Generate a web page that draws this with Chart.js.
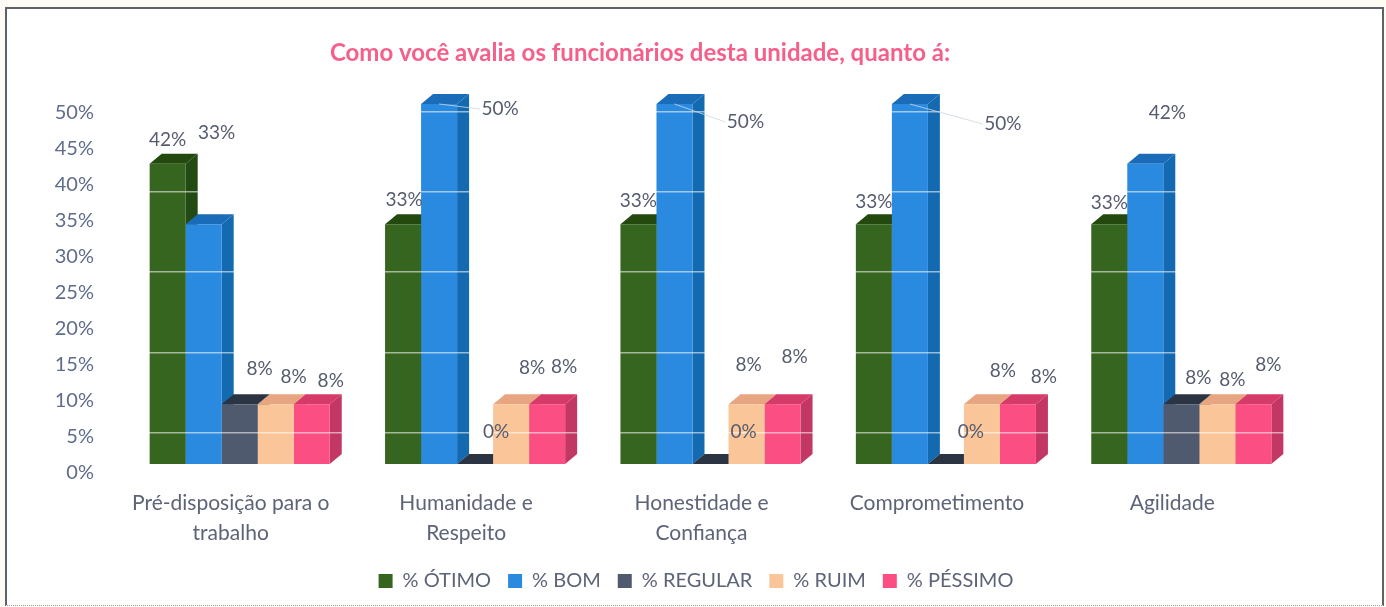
<!DOCTYPE html>
<html lang="pt">
<head>
<meta charset="utf-8">
<title>Avaliação dos funcionários</title>
<script src="https://cdn.jsdelivr.net/npm/chart.js@4/dist/chart.umd.min.js"></script>
<style>
  html, body { margin: 0; padding: 0; background: #fdfbf3; overflow: hidden; }
  #wrap { position: absolute; left: 0; top: 0; width: 1386px; height: 607px; }
  #box { position: absolute; left: 5px; top: 7px; width: 1375px; height: 596px; background: #fff;
         border: solid #5c6268; border-width: 2px 2px 0 2px; border-bottom: 1px dotted #9aa0a6; }
  canvas { position: absolute; left: 0; top: 0; }
</style>
</head>
<body>
<div id="wrap">
  <div id="box"></div>
  <canvas id="chart" width="1386" height="607"></canvas>
</div>
<script>
// ==================== DATA ====================
const categories = [['Pré-disposição para o', 'trabalho'], ['Humanidade e', 'Respeito'], ['Honestidade e', 'Confiança'], 'Comprometimento', 'Agilidade'];
const otimo   = [41.7, 33.3, 33.3, 33.3, 33.3];
const bom     = [33.3, 50, 50, 50, 41.7];
const regular = [8.3, 0, 0, 0, 8.3];
const ruim    = [8.3, 8.3, 8.3, 8.3, 8.3];
const pessimo = [8.3, 8.3, 8.3, 8.3, 8.3];
const seriesNames = ['% ÓTIMO', '% BOM', '% REGULAR', '% RUIM', '% PÉSSIMO'];
const yTicks = [0, 5, 10, 15, 20, 25, 30, 35, 40, 45, 50];
// the white lines crossing the bars do not sit on the axis ticks in the original
const shineLines = [4.4, 15.5, 26.7, 37.8, 48.9];

// ==================== STYLE ====================
const FONT = 'Lato, Carlito, sans-serif';
const TXT = '#5d6478';
const DEPTH = { x: 12, y: 10 };
const front = ['#35651f', '#2a8ae0', '#4f5a6e', '#fac598', '#fb4f84'];
const top_  = ['#23490f', '#1a6cb8', '#2b3442', '#e8a581', '#d63a68'];
const side  = ['#234a12', '#146ab0', '#2f3847', '#dfa880', '#c23763'];

// label offsets from the top of each bar: [series][category] -> [dx, dy]
const labelPos = [
  [[0, -24], [1, -24], [0, -23], [0, -22], [0, -21]],
  [[13, -91], [61, 5], [71, 18], [93, 20], [22, -51]],
  [[20, -35], [21, -32], [33, -32], [25, -32], [17, -26]],
  [[18, -27], [21, -36], [2, -39], [21, -33], [15, -24]],
  [[19, -23], [17, -37], [12, -47], [26, -27], [15, -39]]
];
// leader lines on the 50% bars, from bar top to label
const leaderFor = { series: 1, min: 50 };

// ==================== PLUGINS ====================
// side and top faces go under all the fronts, so a bar front covers its left neighbour's side
const depthBars = {
  id: 'depthBars',
  beforeDatasetsDraw(chart) {
    const c = chart.ctx;
    chart.data.datasets.forEach((ds, i) => {
      chart.getDatasetMeta(i).data.forEach(b => {
        const l = b.x - b.width / 2, r = b.x + b.width / 2, t = b.y, bt = b.base;
        c.save();
        c.fillStyle = side[i];
        c.beginPath();
        c.moveTo(r, bt); c.lineTo(r + DEPTH.x, bt - DEPTH.y);
        c.lineTo(r + DEPTH.x, t - DEPTH.y); c.lineTo(r, t); c.closePath(); c.fill();
        c.fillStyle = top_[i];
        c.beginPath();
        c.moveTo(l, t); c.lineTo(l + DEPTH.x, t - DEPTH.y);
        c.lineTo(r + DEPTH.x, t - DEPTH.y); c.lineTo(r, t); c.closePath(); c.fill();
        c.restore();
      });
    });
  }
};

const barLabels = {
  id: 'barLabels',
  afterDraw(chart) {
    const c = chart.ctx;
    c.save();
    chart.data.datasets.forEach((ds, i) => {
      chart.getDatasetMeta(i).data.forEach((b, j) => {
        const [dx, dy] = labelPos[i][j];
        const lx = b.x + dx, ly = b.y + dy;
        if (i === leaderFor.series && ds.data[j] >= leaderFor.min) {
          c.strokeStyle = 'rgba(205,215,225,.8)';
          c.lineWidth = 1;
          c.beginPath(); c.moveTo(b.x, b.y); c.lineTo(lx - 20, ly); c.stroke();
        }
        c.fillStyle = '#555c6e';
        c.font = '19px ' + FONT;
        c.textAlign = 'center';
        c.textBaseline = 'middle';
        c.fillText(Math.round(ds.data[j]) + '%', lx, ly);
      });
    });
    c.restore();
  }
};

// the title sits left of the canvas middle in the original, the legend a bit right of where it lands
const blockShift = {
  id: 'blockShift',
  afterLayout(chart) {
    chart.titleBlock.left = 0;
    chart.titleBlock.right = 1280;
    chart.legend.left += 19;
    chart.legend.right += 19;
  }
};

// ==================== CHART ====================
new Chart(document.getElementById('chart'), {
  type: 'bar',
  data: {
    labels: categories,
    datasets: [otimo, bom, regular, ruim, pessimo].map((d, i) => ({
      label: seriesNames[i],
      data: d,
      backgroundColor: front[i],
      barPercentage: 1,
      categoryPercentage: 0.765
    }))
  },
  options: {
    responsive: false,
    animation: false,
    layout: { padding: { left: 55, right: 87, top: 0, bottom: 6 } },
    plugins: {
      tooltip: { enabled: false },
      title: {
        display: true,
        text: 'Como você avalia os funcionários desta unidade, quanto á:',
        color: '#f5608a',
        font: { family: FONT, size: 24, weight: 'bold', lineHeight: '24px' },
        padding: { top: 41, bottom: 39 }
      },
      legend: {
        position: 'bottom',
        labels: {
          color: TXT,
          font: { family: FONT, size: 20 },
          boxWidth: 14,
          boxHeight: 14,
          padding: 17
        }
      }
    },
    scales: {
      x: {
        grid: { display: false, drawTicks: false },
        border: { display: false },
        afterFit: s => { s.height = 90; },
        ticks: {
          color: TXT,
          font: { family: FONT, size: 21, lineHeight: 1.43 },
          maxRotation: 0,
          padding: 24,
          labelOffset: -9
        }
      },
      y: {
        min: 0,
        max: 50,
        position: 'left',
        grid: { display: false, drawTicks: false },
        border: { display: false },
        afterFit: s => { s.width = 67; },
        afterBuildTicks: s => { s.ticks = yTicks.map(v => ({ value: v })); },
        ticks: {
          color: '#5f6c8c',
          font: { family: FONT, size: 20 },
          padding: 28,
          labelOffset: 9,
          callback: v => v + '%'
        }
      },
      shine: {
        min: 0,
        max: 50,
        position: 'left',
        border: { display: false },
        grid: { z: 1, color: 'rgba(255,255,255,.55)', lineWidth: 1.5, drawTicks: false },
        afterFit: s => { s.width = 0; },
        afterBuildTicks: s => { s.ticks = shineLines.map(v => ({ value: v })); },
        ticks: { display: false }
      }
    }
  },
  plugins: [depthBars, barLabels, blockShift]
});
</script>
</body>
</html>
